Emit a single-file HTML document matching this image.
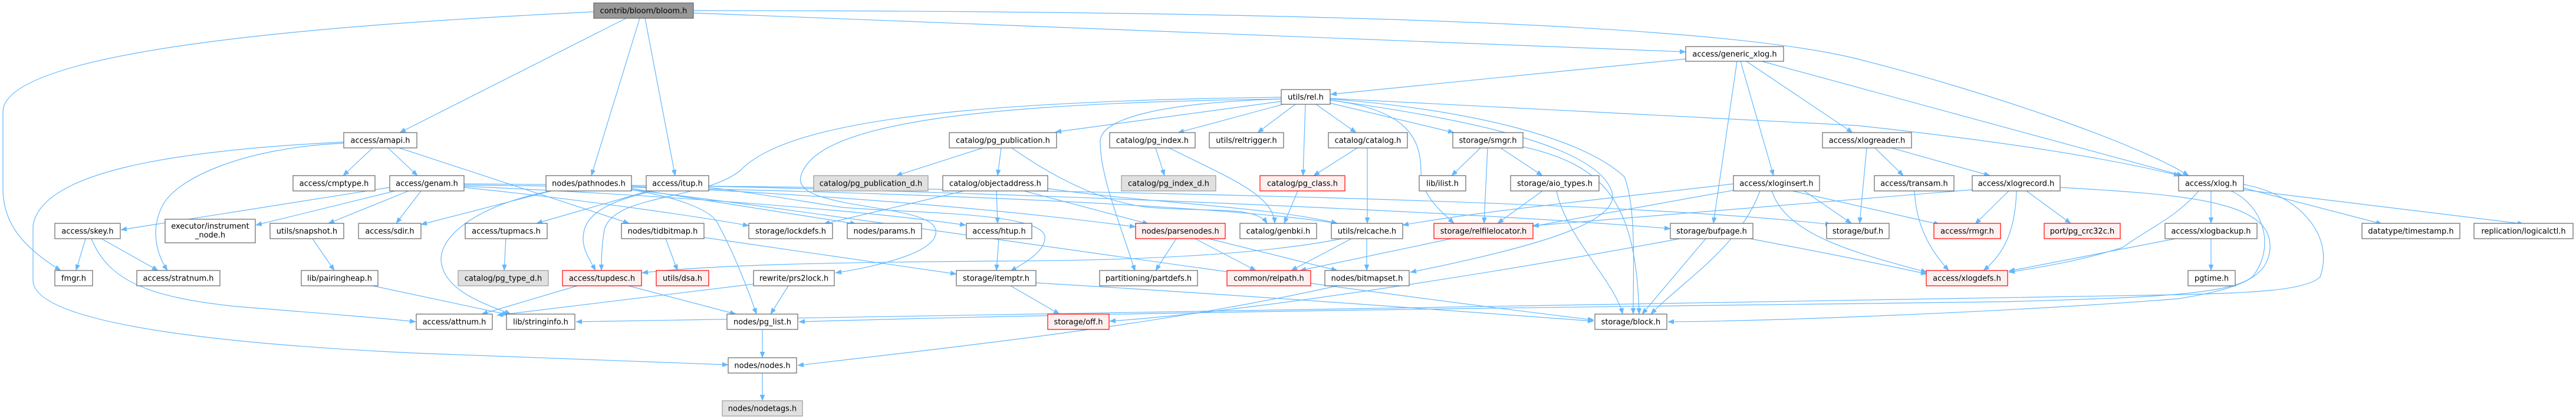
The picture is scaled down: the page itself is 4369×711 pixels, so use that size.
<!DOCTYPE html>
<html><head><meta charset="utf-8">
<style>
html,body{margin:0;padding:0;background:#fff;}
svg{display:block;}
.n rect{fill:#fff;stroke:#666;stroke-width:1.2;}
.g rect{fill:#e0e0e0;stroke:#999;stroke-width:1.2;}
.r rect{fill:#fff0f0;stroke:#ff0000;stroke-width:1.2;}
.root rect{fill:#999;stroke:#666;stroke-width:1.2;}
text{font-family:"DejaVu Sans","Liberation Sans",sans-serif;font-size:13px;text-anchor:middle;fill:#000;}
.e path{fill:none;stroke:#63b8ff;stroke-width:1.2;marker-end:url(#a);}
</style></head>
<body>
<svg width="4369" height="711" viewBox="0 0 4369 711" xmlns="http://www.w3.org/2000/svg">
<defs>
<marker id="a" markerWidth="10" markerHeight="8" refX="10" refY="4" orient="auto" markerUnits="userSpaceOnUse" viewBox="0 0 10 8">
<path d="M0,0 L10,4 L0,8 z" fill="#63b8ff" stroke="#63b8ff" stroke-width="0.5"/>
</marker>
</defs>
<rect width="4369" height="711" fill="#fff"/>
<g class="e">
<!-- bloom -->
<path d="M1062,31 L678,225"/>
<path d="M1007,20 C600,40 5,80 5,190 L5,320 C5,380 40,420 103,459"/>
<path d="M1085,31 L1003,298"/>
<path d="M1094,31 L1145,298"/>
<path d="M1176,22 L2859,88"/>
<path d="M1176,18 C2400,18 2950,50 3150,100 C3350,150 3620,240 3712,298"/>
<!-- generic_xlog -->
<path d="M2859,100 L2257,160"/>
<path d="M2946,104 L2906,379"/>
<path d="M2952,104 L3008,298"/>
<path d="M2962,104 L3142,225"/>
<path d="M2988,104 L3702,298"/>
<!-- rel -->
<path d="M2173,172 L1790,224"/>
<path d="M2176,177 L1998,225"/>
<path d="M2197,177 L2133,225"/>
<path d="M2232,177 L2300,225"/>
<path d="M2214,177 L2210,298"/>
<path d="M2256,175 L2466,225"/>
<path d="M2256,167 L3150,213 C3350,235 3550,262 3697,298"/>
<path d="M2173,165 C1600,172 1330,210 1255,290 C1190,340 1040,330 1025,390 C1020,420 1020,440 1020,459"/>
<path d="M2173,168 C1650,175 1380,210 1358,300 C1345,355 1560,345 1585,385 C1605,425 1490,452 1417,463"/>
<path d="M2173,168 C1950,175 1866,205 1866,240 C1866,300 1900,380 1925,460"/>
<path d="M2256,170 C2380,185 2410,230 2410,290 C2410,330 2440,355 2466,379"/>
<path d="M2256,170 C2550,210 2720,260 2735,330 C2740,380 2600,420 2392,462"/>
<path d="M2256,168 C2480,185 2680,230 2755,300 C2775,350 2770,450 2770,533"/>
<!-- amapi -->
<path d="M632,251 L582,298"/>
<path d="M658,251 L708,298"/>
<path d="M583,243 C420,250 300,300 275,350 C255,390 265,430 284,459"/>
<path d="M583,241 C300,255 70,290 56,383 L56,477 C60,540 300,580 700,599 C950,610 1100,615 1235,619"/>
<path d="M677,251 L1067,379"/>
<!-- genam -->
<path d="M661,318 L205,390"/>
<path d="M670,324 L434,382"/>
<path d="M693,324 L557,379"/>
<path d="M714,324 L672,379"/>
<path d="M787,318 C1000,340 1200,370 1270,383"/>
<path d="M787,316 C1100,330 1450,355 1638,382"/>
<path d="M787,314 C1400,320 2050,345 2268,379"/>
<path d="M787,312 C1600,318 2700,335 3106,381"/>
<!-- pathnodes -->
<path d="M935,324 L714,381"/>
<path d="M935,324 C820,345 748,395 748,440 C750,495 830,518 866,533"/>
<path d="M1071,320 L1452,380"/>
<path d="M1071,316 C1400,330 1700,355 1926,385"/>
<path d="M1071,322 C1400,360 2100,470 2703,543"/>
<path d="M1071,322 C1150,335 1200,355 1215,375 C1240,420 1265,480 1283,533"/>
<!-- itup -->
<path d="M1100,324 L910,379"/>
<path d="M1100,326 C1040,340 995,360 990,395 C985,420 1000,440 1010,459"/>
<path d="M1202,316 C1800,330 2500,360 2833,388"/>
<path d="M1202,318 C1300,330 1380,345 1430,352 C1550,362 1760,360 1772,400 C1775,425 1740,445 1714,460"/>
<!-- tupmacs, tidbitmap, htup -->
<path d="M858,405 L855,459"/>
<path d="M1129,405 L1149,459"/>
<path d="M1194,403 L1622,465"/>
<path d="M1694,405 L1690,459"/>
<!-- objectaddress -->
<path d="M1690,324 L1692,379"/>
<path d="M1635,324 L1397,380"/>
<path d="M1737,324 L1948,380"/>
<path d="M1777,320 C1950,345 2150,350 2268,379"/>
<!-- pg_publication -->
<path d="M1667,251 L1520,298"/>
<path d="M1698,251 L1692,298"/>
<path d="M1716,251 C1800,310 1880,345 1950,352 C2060,360 2130,350 2149,379"/>
<!-- pg_index -->
<path d="M1960,251 L1975,298"/>
<path d="M1983,251 C2080,300 2160,330 2162,379"/>
<!-- pg_class -->
<path d="M2201,324 L2178,379"/>
<!-- catalog -->
<path d="M2302,251 L2228,298"/>
<path d="M2319,251 L2319,379"/>
<!-- smgr -->
<path d="M2511,251 L2462,298"/>
<path d="M2545,251 L2616,298"/>
<path d="M2523,251 L2517,379"/>
<path d="M2583,249 C2720,280 2775,340 2780,533"/>
<!-- aio_types -->
<path d="M2616,324 L2540,379"/>
<path d="M2640,324 C2655,400 2740,480 2752,533"/>
<!-- xloginsert -->
<path d="M2945,322 L2600,384"/>
<path d="M2940,312 C2700,340 2500,360 2379,382"/>
<path d="M2985,324 C2950,420 2850,480 2800,533"/>
<path d="M3040,324 L3290,381"/>
<path d="M3005,324 C3030,400 3150,430 3268,462"/>
<path d="M3060,324 L3140,379"/>
<!-- xlogreader -->
<path d="M3180,251 L3228,298"/>
<path d="M3208,251 L3375,298"/>
<path d="M3166,251 L3154,379"/>
<!-- transam -->
<path d="M3247,324 C3250,380 3270,420 3305,459"/>
<!-- xlogrecord -->
<path d="M3345,322 L2600,383"/>
<path d="M3407,324 L3350,380"/>
<path d="M3420,324 C3418,390 3400,430 3364,459"/>
<path d="M3437,324 L3512,379"/>
<path d="M3494,318 C3700,330 3850,340 3850,417 C3850,470 3800,490 3694,507 C3400,530 3000,545 2829,546"/>
<!-- xlog -->
<path d="M3729,324 C3690,370 3640,390 3600,420 C3520,445 3450,455 3407,462"/>
<path d="M3750,324 L3750,379"/>
<path d="M3784,324 C3840,350 3860,420 3820,470 C3780,500 3650,505 3400,512 C2800,520 2000,527 1355,546"/>
<path d="M3805,313 C3900,330 3960,400 3935,470 C3910,495 3800,497 3700,500 C3000,515 1800,530 977,546"/>
<path d="M3805,319 L4040,380"/>
<path d="M3805,322 L4280,380"/>
<!-- xlogbackup -->
<path d="M3690,405 L3407,460"/>
<path d="M3750,405 L3750,459"/>
<!-- bufpage -->
<path d="M2849,405 C2500,470 2100,530 1882,545"/>
<path d="M2893,405 L2785,533"/>
<path d="M2968,405 C3100,430 3200,450 3268,465"/>
<!-- itemptr -->
<path d="M1714,485 L1797,533"/>
<path d="M1757,480 C2100,500 2500,530 2703,545"/>
<!-- tupdesc -->
<path d="M979,485 L817,533"/>
<path d="M1066,485 L1248,533"/>
<!-- prs2lock -->
<path d="M1278,482 L843,535"/>
<path d="M1337,485 L1307,533"/>
<!-- skey -->
<path d="M145,405 L129,459"/>
<path d="M172,405 L268,459"/>
<path d="M155,405 C185,480 260,505 400,520 C550,532 650,540 705,546"/>
<!-- snapshot, pairingheap -->
<path d="M530,405 L567,459"/>
<path d="M632,485 L862,534"/>
<!-- pg_list, nodes, bitmapset -->
<path d="M1293,559 L1293,607"/>
<path d="M1293,633 L1293,680"/>
<path d="M2268,485 C2000,545 1700,580 1353,620"/>
<!-- parsenodes -->
<path d="M1995,405 L1960,459"/>
<path d="M2027,405 L2130,459"/>
<path d="M2050,405 L2268,459"/>
<!-- relcache -->
<path d="M2292,405 L2190,459"/>
<path d="M2318,405 L2318,459"/>
<path d="M2276,405 C2150,430 1950,442 1700,443 C1400,445 1200,450 1089,463"/>
<!-- relfilelocator -->
<path d="M2462,405 L2205,459"/>
</g>

<!-- nodes -->
<g class="root"><rect x="1007" y="5" width="169" height="26"/><text x="1091.5" y="22.5">contrib/bloom/bloom.h</text></g>
<g class="n"><rect x="2859" y="79" width="166" height="25"/><text x="2942" y="96">access/generic_xlog.h</text></g>
<g class="n"><rect x="2173" y="152" width="83" height="25"/><text x="2214.5" y="169">utils/rel.h</text></g>

<g class="n"><rect x="583" y="225" width="124" height="26"/><text x="645" y="242.5">access/amapi.h</text></g>
<g class="n"><rect x="1610" y="225" width="182" height="26"/><text x="1701" y="242.5">catalog/pg_publication.h</text></g>
<g class="n"><rect x="1882" y="225" width="145" height="26"/><text x="1954.5" y="242.5">catalog/pg_index.h</text></g>
<g class="n"><rect x="2051" y="225" width="126" height="26"/><text x="2114" y="242.5">utils/reltrigger.h</text></g>
<g class="n"><rect x="2253" y="225" width="134" height="26"/><text x="2320" y="242.5">catalog/catalog.h</text></g>
<g class="n"><rect x="2464" y="225" width="119" height="26"/><text x="2523.5" y="242.5">storage/smgr.h</text></g>
<g class="n"><rect x="3091" y="225" width="151" height="26"/><text x="3166.5" y="242.5">access/xlogreader.h</text></g>

<g class="n"><rect x="497" y="298" width="139" height="26"/><text x="566.5" y="315.5">access/cmptype.h</text></g>
<g class="n"><rect x="661" y="298" width="126" height="26"/><text x="724" y="315.5">access/genam.h</text></g>
<g class="n"><rect x="926" y="298" width="145" height="26"/><text x="998.5" y="315.5">nodes/pathnodes.h</text></g>
<g class="n"><rect x="1096" y="298" width="106" height="26"/><text x="1149" y="315.5">access/itup.h</text></g>
<g class="g"><rect x="1380" y="298" width="194" height="26"/><text x="1477" y="315.5">catalog/pg_publication_d.h</text></g>
<g class="n"><rect x="1599" y="298" width="178" height="26"/><text x="1688" y="315.5">catalog/objectaddress.h</text></g>
<g class="g"><rect x="1902" y="298" width="160" height="26"/><text x="1982" y="315.5">catalog/pg_index_d.h</text></g>
<g class="r"><rect x="2137" y="298" width="144" height="26"/><text x="2209" y="315.5">catalog/pg_class.h</text></g>
<g class="n"><rect x="2407" y="298" width="79" height="26"/><text x="2446.5" y="315.5">lib/ilist.h</text></g>
<g class="n"><rect x="2562" y="298" width="150" height="26"/><text x="2637" y="315.5">storage/aio_types.h</text></g>
<g class="n"><rect x="2940" y="298" width="146" height="26"/><text x="3013" y="315.5">access/xloginsert.h</text></g>
<g class="n"><rect x="3179" y="298" width="135" height="26"/><text x="3246.5" y="315.5">access/transam.h</text></g>
<g class="n"><rect x="3345" y="298" width="149" height="26"/><text x="3419.5" y="315.5">access/xlogrecord.h</text></g>
<g class="n"><rect x="3695" y="298" width="110" height="26"/><text x="3750" y="315.5">access/xlog.h</text></g>

<g class="n"><rect x="93" y="379" width="111" height="26"/><text x="148.5" y="396.5">access/skey.h</text></g>
<g class="n"><rect x="280" y="372" width="153" height="40"/><text x="356.5" y="388">executor/instrument</text><text x="356.5" y="403">_node.h</text></g>
<g class="n"><rect x="458" y="379" width="125" height="26"/><text x="520.5" y="396.5">utils/snapshot.h</text></g>
<g class="n"><rect x="608" y="379" width="106" height="26"/><text x="661" y="396.5">access/sdir.h</text></g>
<g class="n"><rect x="789" y="379" width="139" height="26"/><text x="858.5" y="396.5">access/tupmacs.h</text></g>
<g class="n"><rect x="1054" y="379" width="140" height="26"/><text x="1124" y="396.5">nodes/tidbitmap.h</text></g>
<g class="n"><rect x="1270" y="379" width="142" height="26"/><text x="1341" y="396.5">storage/lockdefs.h</text></g>
<g class="n"><rect x="1437" y="379" width="126" height="26"/><text x="1500" y="396.5">nodes/params.h</text></g>
<g class="n"><rect x="1639" y="379" width="111" height="26"/><text x="1694.5" y="396.5">access/htup.h</text></g>
<g class="r"><rect x="1926" y="379" width="152" height="26"/><text x="2002" y="396.5">nodes/parsenodes.h</text></g>
<g class="n"><rect x="2103" y="379" width="130" height="26"/><text x="2168" y="396.5">catalog/genbki.h</text></g>
<g class="n"><rect x="2258" y="379" width="121" height="26"/><text x="2318.5" y="396.5">utils/relcache.h</text></g>
<g class="r"><rect x="2432" y="379" width="168" height="26"/><text x="2516" y="396.5">storage/relfilelocator.h</text></g>
<g class="n"><rect x="2833" y="379" width="140" height="26"/><text x="2903" y="396.5">storage/bufpage.h</text></g>
<g class="n"><rect x="3098" y="379" width="106" height="26"/><text x="3151" y="396.5">storage/buf.h</text></g>
<g class="r"><rect x="3280" y="379" width="113" height="26"/><text x="3336.5" y="396.5">access/rmgr.h</text></g>
<g class="r"><rect x="3467" y="379" width="129" height="26"/><text x="3531.5" y="396.5">port/pg_crc32c.h</text></g>
<g class="n"><rect x="3672" y="379" width="156" height="26"/><text x="3750" y="396.5">access/xlogbackup.h</text></g>
<g class="n"><rect x="4006" y="379" width="166" height="26"/><text x="4089" y="396.5">datatype/timestamp.h</text></g>
<g class="n"><rect x="4196" y="379" width="168" height="26"/><text x="4280" y="396.5">replication/logicalctl.h</text></g>

<g class="n"><rect x="93" y="459" width="64" height="26"/><text x="125" y="476.5">fmgr.h</text></g>
<g class="n"><rect x="232" y="459" width="141" height="26"/><text x="302.5" y="476.5">access/stratnum.h</text></g>
<g class="n"><rect x="511" y="459" width="130" height="26"/><text x="576" y="476.5">lib/pairingheap.h</text></g>
<g class="g"><rect x="777" y="459" width="153" height="26"/><text x="853.5" y="476.5">catalog/pg_type_d.h</text></g>
<g class="r"><rect x="954" y="459" width="134" height="26"/><text x="1021" y="476.5">access/tupdesc.h</text></g>
<g class="r"><rect x="1113" y="459" width="89" height="26"/><text x="1157.5" y="476.5">utils/dsa.h</text></g>
<g class="n"><rect x="1278" y="459" width="137" height="26"/><text x="1346.5" y="476.5">rewrite/prs2lock.h</text></g>
<g class="n"><rect x="1622" y="459" width="135" height="26"/><text x="1689.5" y="476.5">storage/itemptr.h</text></g>
<g class="n"><rect x="1865" y="459" width="166" height="26"/><text x="1948" y="476.5">partitioning/partdefs.h</text></g>
<g class="r"><rect x="2081" y="459" width="142" height="26"/><text x="2152" y="476.5">common/relpath.h</text></g>
<g class="n"><rect x="2247" y="459" width="143" height="26"/><text x="2318.5" y="476.5">nodes/bitmapset.h</text></g>
<g class="r"><rect x="3267" y="459" width="138" height="26"/><text x="3336" y="476.5">access/xlogdefs.h</text></g>
<g class="n"><rect x="3711" y="459" width="80" height="26"/><text x="3751" y="476.5">pgtime.h</text></g>

<g class="n"><rect x="706" y="533" width="129" height="26"/><text x="770.5" y="550.5">access/attnum.h</text></g>
<g class="n"><rect x="859" y="533" width="116" height="26"/><text x="917" y="550.5">lib/stringinfo.h</text></g>
<g class="n"><rect x="1233" y="533" width="120" height="26"/><text x="1293" y="550.5">nodes/pg_list.h</text></g>
<g class="r"><rect x="1777" y="533" width="104" height="26"/><text x="1829" y="550.5">storage/off.h</text></g>
<g class="n"><rect x="2705" y="533" width="122" height="26"/><text x="2766" y="550.5">storage/block.h</text></g>

<g class="n"><rect x="1235" y="607" width="116" height="26"/><text x="1293" y="624.5">nodes/nodes.h</text></g>
<g class="g"><rect x="1225" y="680" width="136" height="26"/><text x="1293" y="697.5">nodes/nodetags.h</text></g>
</svg>
</body></html>
